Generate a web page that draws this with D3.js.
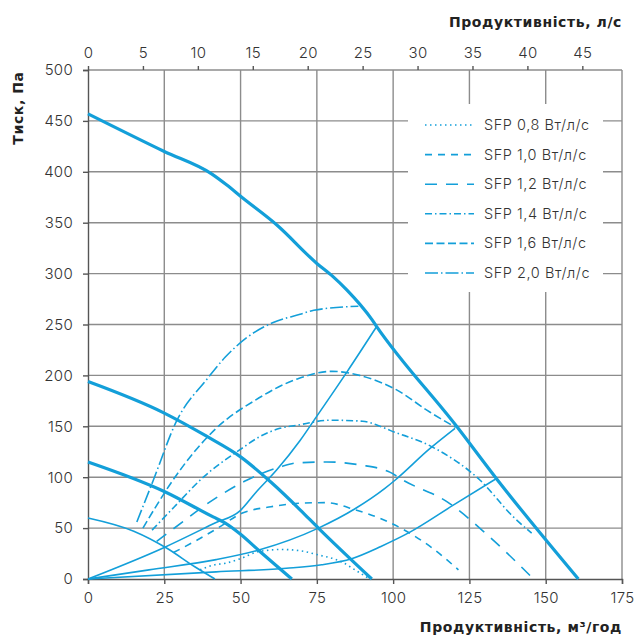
<!DOCTYPE html>
<html lang="uk">
<head>
<meta charset="UTF-8">
<title>Тиск / продуктивність</title>
<script src="https://cdn.jsdelivr.net/npm/d3@7"></script>
<style>
  body { margin: 0; background: #fff; }
  svg text { font-family: Inter, "Open Sans", sans-serif; }
</style>
</head>
<body>
<svg id="chart" width="637" height="636"></svg>
<script>

    // axis ticks
    const flowTicks = [0, 25, 50, 75, 100, 125, 150, 175];
    const lsTicks = [0, 5, 10, 15, 20, 25, 30, 35, 40, 45];
    const pressureTicks = [0, 50, 100, 150, 200, 250, 300, 350, 400, 450, 500];

    // fan curves [m3/h, Pa]
    const fanMax = [[0,457],[25,420],[40.5,398],[45.5,387],[50.4,375],[61.8,348],[75,310],[80.3,297],[84.8,284],[93,255],[94.6,248],[120.8,150],[134,98],[160.7,0]];
    const fanMid = [[0,194],[25,163],[39,140],[50,120],[60,95],[69.5,68],[75.5,50],[93,0]];
    const fanLow = [[0,115],[25,86],[41,61],[45,55],[50,44],[55.8,28.5],[66.8,0]];
    const fanMin = [[0,60],[15,47],[26,30],[35,12],[41.6,0]];

    // system curves
    const systemA = [[0,0],[25,31],[41.6,55],[49.8,67],[55,85],[61.8,107],[69.5,136],[75,160],[85,204],[94.6,248]];
    const systemB = [[0,0],[20,9],[42,19],[56,28.5],[75.5,50],[87.5,69],[97.3,89],[100.6,97],[112,128],[120.3,148]];
    const systemC = [[0,0],[42,7],[65,10.5],[76.6,14],[86.4,20],[96,32],[105.5,46],[119.7,72.5],[134,99]];

    // SFP lines
    const sfp08 = [[36.7,9],[41.6,14],[45,15.5],[50,20],[56,27],[63.5,29],[70,27.5],[75,24],[83,17],[88,8],[91.9,0.7]];
    const sfp10 = [[28,26],[35,37],[42,49],[50.4,64.5],[60,71],[70,74.5],[78,75],[87.5,68],[97,58],[105.5,45],[113,30],[121.4,9]];
    const sfp12 = [[22.5,37],[27.4,48],[41.6,79],[52,97],[62.9,110],[68.4,114],[78.2,115],[89.2,112],[98.9,105],[103.3,97],[117.6,76],[131,43],[146,0]];
    const sfp14 = [[21,48],[28,70],[37.8,100],[49.8,127],[56.4,140],[62.9,148],[68.4,151],[79.3,156],[90,155],[95.7,150],[99,146],[112,131],[128.5,97],[139.4,61],[145.4,45]];
    const sfp16 = [[18,50],[28.5,100],[42,148],[55,176],[69,197],[80,204],[89,200],[101,186],[112,164],[120.5,149]];
    const sfp20 = [[16,56],[21.4,97],[29,155],[38.9,196],[45,218],[52,237],[60.7,252],[69.5,260],[74,264],[88.6,268]];

    const sfpNames = ["SFP 0,8 Вт/л/с", "SFP 1,0 Вт/л/с", "SFP 1,2 Вт/л/с", "SFP 1,4 Вт/л/с", "SFP 1,6 Вт/л/с", "SFP 2,0 Вт/л/с"];
    const sfpLines = [sfp08, sfp10, sfp12, sfp14, sfp16, sfp20];
    const sfpDash = ["1.5,3.5", "7,6", "12,9", "7,3,1.5,3", "8,3.5", "13,3,1.5,3"];

    const blue = "#139fd9";
    const svg = d3.select("#chart");

    const x = d3.scaleLinear().domain([0, 175]).range([88, 622]);
    const xLs = d3.scaleLinear().domain([0, 175 / 3.6]).range([88, 622]);
    const y = d3.scaleLinear().domain([0, 500]).range([579, 70]);

    // grid
    svg.append("g").selectAll("line").data(flowTicks.slice(1)).enter().append("line")
        .attr("x1", d => x(d)).attr("x2", d => x(d))
        .attr("y1", y(500)).attr("y2", y(0))
        .attr("stroke", "#8c8c8c").attr("stroke-width", 1.4);
    svg.append("g").selectAll("line").data(pressureTicks.slice(1)).enter().append("line")
        .attr("x1", x(0)).attr("x2", x(175))
        .attr("y1", d => y(d)).attr("y2", d => y(d))
        .attr("stroke", "#8c8c8c").attr("stroke-width", 1.4);

    // axes
    const leftAxis = svg.append("g").attr("transform", "translate(" + x(0) + ",0)")
        .call(d3.axisLeft(y).tickValues(pressureTicks).tickSize(5).tickPadding(10));
    const bottomAxis = svg.append("g").attr("transform", "translate(0," + y(0) + ")")
        .call(d3.axisBottom(x).tickValues(flowTicks).tickSize(5).tickPadding(8));
    const topAxis = svg.append("g").attr("transform", "translate(0," + y(500) + ")")
        .call(d3.axisTop(xLs).tickValues(lsTicks).tickSize(4).tickPadding(8));

    [leftAxis, bottomAxis, topAxis].forEach(function(g) {
        g.selectAll(".domain").attr("stroke", "#555").attr("stroke-width", 1.4);
        g.selectAll(".tick line").attr("stroke", "#555").attr("stroke-width", 1.4);
        g.selectAll("text").attr("font-size", 15).attr("font-weight", 300).attr("fill", "#333")
            .style("font-family", "Inter, 'Open Sans', sans-serif")
            .style("letter-spacing", "0.3px");
    });
    topAxis.select(".domain").remove();

    // curves
    const line = d3.line().x(d => x(d[0])).y(d => y(d[1])).curve(d3.curveMonotoneX);
    const plot = svg.append("g").attr("fill", "none").attr("stroke", blue);

    [systemA, systemB, systemC, fanMin].forEach(function(d) {
        plot.append("path").attr("d", line(d)).attr("stroke-width", 1.6);
    });
    sfpLines.forEach(function(d, i) {
        plot.append("path").attr("d", line(d)).attr("stroke-width", 1.6)
            .attr("stroke-dasharray", sfpDash[i]);
    });
    [fanMax, fanMid, fanLow].forEach(function(d) {
        plot.append("path").attr("d", line(d)).attr("stroke-width", 3.2)
            .attr("stroke-linejoin", "round");
    });

    // legend
    const legend = svg.append("g");
    legend.append("rect").attr("x", 408).attr("y", 104).attr("width", 195).attr("height", 188)
        .attr("fill", "#fff");
    sfpNames.forEach(function(name, i) {
        const ly = 125 + i * 29.6;
        legend.append("line").attr("x1", 425).attr("x2", 474).attr("y1", ly).attr("y2", ly)
            .attr("stroke", blue).attr("stroke-width", 1.6).attr("stroke-dasharray", sfpDash[i]);
        legend.append("text").attr("x", 484).attr("y", ly).attr("dy", "0.35em")
            .attr("font-size", 14.5).attr("font-weight", 300).attr("fill", "#333")
            .style("letter-spacing", "0.55px").text(name);
    });

    // titles
    const titleFont = "'DejaVu Sans', sans-serif";
    svg.append("text").attr("x", 622).attr("y", 27).attr("text-anchor", "end")
        .attr("font-size", 14).attr("font-weight", 700).attr("fill", "#222")
        .style("font-family", titleFont).style("letter-spacing", "0.6px")
        .text("Продуктивність, л/с");
    svg.append("text").attr("x", 622).attr("y", 632).attr("text-anchor", "end")
        .attr("font-size", 14).attr("font-weight", 700).attr("fill", "#222")
        .style("font-family", titleFont).style("letter-spacing", "0.6px")
        .text("Продуктивність, м³/год");
    svg.append("text").attr("transform", "translate(23,108) rotate(-90)").attr("text-anchor", "middle")
        .attr("font-size", 14).attr("font-weight", 700).attr("fill", "#222")
        .style("font-family", titleFont).style("letter-spacing", "0.6px")
        .text("Тиск, Па");
</script>
</body>
</html>
